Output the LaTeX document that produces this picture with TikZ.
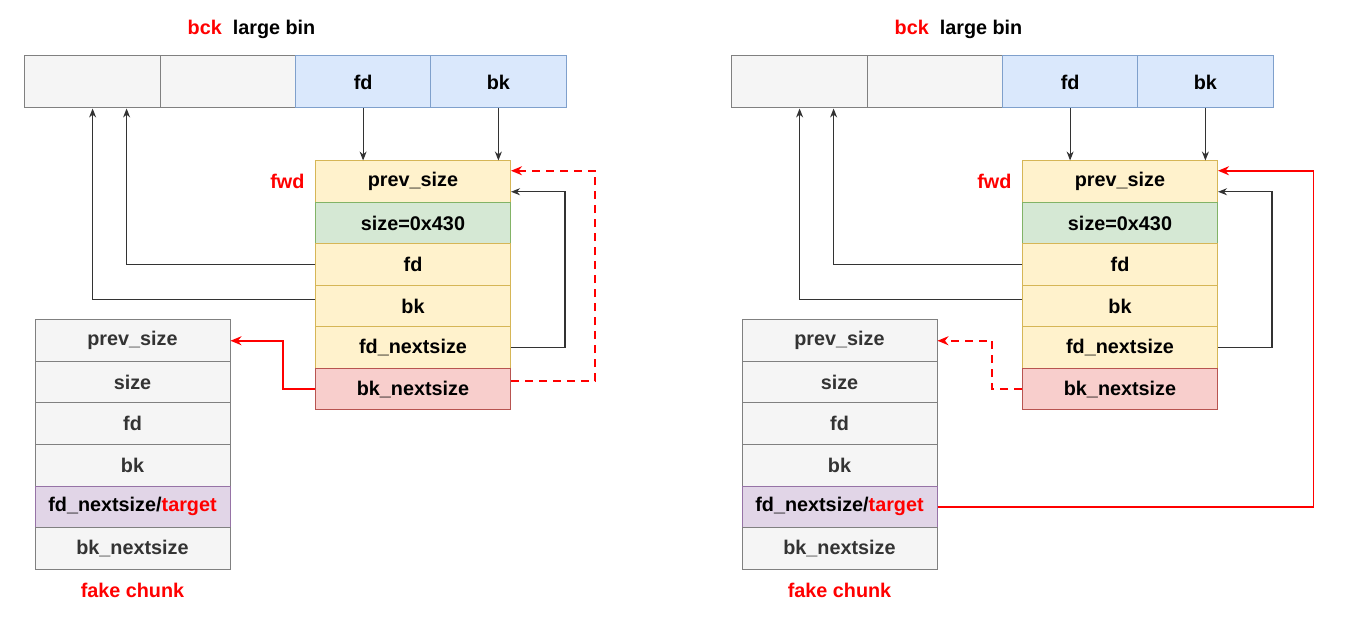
\documentclass[tikz,border=0pt]{standalone}
\usepackage{fontspec}
\setmainfont{Liberation Sans}
\usetikzlibrary{arrows.meta}
\definecolor{greyfill}{HTML}{F5F5F5}
\definecolor{greyline}{HTML}{808080}
\definecolor{greytext}{HTML}{333333}
\definecolor{bluefill}{HTML}{DAE8FC}
\definecolor{blueline}{HTML}{7FA0CC}
\definecolor{yellowfill}{HTML}{FFF2CC}
\definecolor{yellowline}{HTML}{D6B656}
\definecolor{greenfill}{HTML}{D5E8D4}
\definecolor{greenline}{HTML}{82B366}
\definecolor{redfill}{HTML}{F8CECC}
\definecolor{redline}{HTML}{B85450}
\definecolor{purplefill}{HTML}{E1D5E7}
\definecolor{purpleline}{HTML}{9673A6}

\begin{document}
\begin{tikzpicture}[x=1pt,y=-1pt,
  every node/.style={font=\fontsize{19.8}{22}\selectfont\bfseries},
  cell/.style={draw=greyline,fill=greyfill,line width=1pt,minimum width=135.25pt,minimum height=52pt,inner sep=0pt},
  bincell/.style={cell,draw=blueline,fill=bluefill},
  row/.style={draw=yellowline,fill=yellowfill,line width=1pt,minimum width=195pt,minimum height=41.5pt,inner sep=0pt},
  sizerow/.style={row,draw=greenline,fill=greenfill},
  bkrow/.style={row,draw=redline,fill=redfill},
  fakerow/.style={row,draw=greyline,fill=greyfill,text=greytext},
  ptr/.style={draw=black!80,line width=1.1pt,-{Stealth[length=9pt,width=7pt]}},
  redptr/.style={draw=red,line width=1.8pt,-{Stealth[length=11pt,width=9pt]}}]
\useasboundingbox (0,0) rectangle (1347,617);
\foreach \p/\dx in {l/0,r/707}{
\begin{scope}[xshift=\dx]
\node (\p title) at (251.5,29) {\textcolor{red}{bck}\hspace{11pt}large bin};
\node[cell] (\p c1) at (92.6,82) {};
\node[cell] (\p c2) at (227.9,82) {};
\node[bincell] (\p c3) at (363.1,82) {fd};
\node[bincell] (\p c4) at (498.4,82) {bk};
% fwd chunk
\node[row] (\p f1) at (413,181.75) {prev\_size};
\node[sizerow] (\p f2) at (413,223.25) {size=0x430};
\node[row] (\p f3) at (413,264.75) {fd};
\node[row] (\p f4) at (413,306.25) {bk};
\node[row] (\p f5) at (413,347.75) {fd\_nextsize};
\node[bkrow] (\p f6) at (413,389.25) {bk\_nextsize};
\node[text=red,anchor=east] (\p fwd) at (308,181.75) {fwd};
% fake chunk
\node[fakerow] (\p k1) at (132.5,340.75) {prev\_size};
\node[fakerow] (\p k2) at (132.5,382.25) {size};
\node[fakerow] (\p k3) at (132.5,423.75) {fd};
\node[fakerow] (\p k4) at (132.5,465.25) {bk};
\node[fakerow,draw=purpleline,fill=purplefill,text=black] (\p k5) at (132.5,506.75) {fd\_nextsize/\textcolor{red}{target}};
\node[fakerow] (\p k6) at (132.5,548.25) {bk\_nextsize};
\node[text=red] (\p fake) at (132.5,590) {fake chunk};
\draw[ptr] (\p c3.south) -- (\p c3.south |- \p f1.north);
\draw[ptr] (\p c4.south) -- (\p c4.south |- \p f1.north);
\draw[ptr] (\p f3.west) -| ([xshift=34]\p c1.south);
\draw[ptr] ([yshift=7]\p f4.west) -| (\p c1.south);
\draw[ptr] (\p f5.east) -- ++(54,0) |- ([yshift=-10]\p f1.east);
\end{scope}
}
\draw[redptr,dash pattern=on 8pt off 6pt] ([yshift=8]lf6.east) -- ++(84,0) |- ([yshift=11]lf1.east);
\draw[redptr] (lf6.west) -- ++(-32,0) |- (lk1.east);
\draw[redptr,dash pattern=on 8pt off 6pt] (rf6.west) -- ++(-30,0) |- (rk1.east);
\draw[redptr] (rk5.east) -- ++(376,0) |- ([yshift=11]rf1.east);
\end{tikzpicture}
\end{document}
